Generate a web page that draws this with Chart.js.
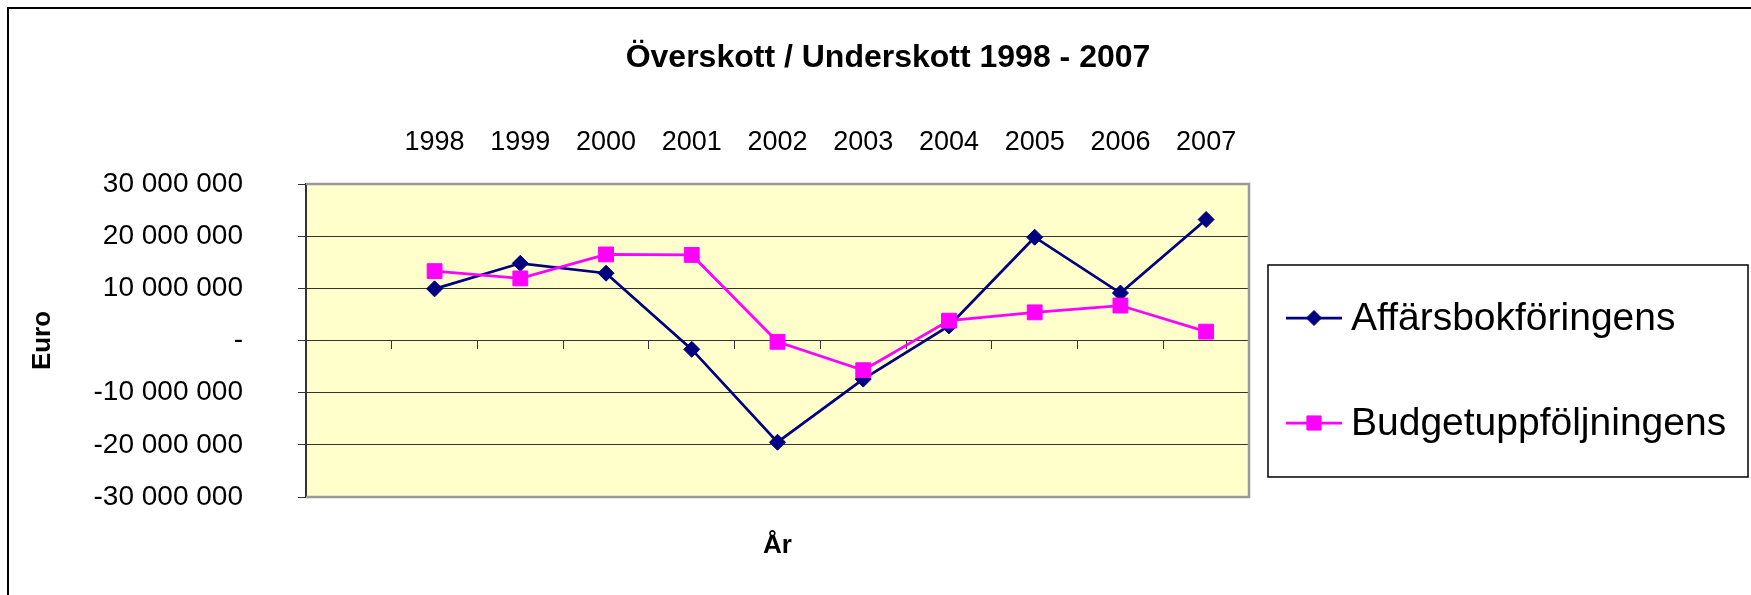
<!DOCTYPE html>
<html lang="sv">
<head>
    <meta charset="UTF-8">
    <title>Överskott / Underskott 1998 - 2007</title>
    <style>
        body {
            margin: 0;
            background-color: #fff;
        }
        canvas {
            display: block;
        }
    </style>
</head>
<body>

<canvas id="chart" width="1751" height="595"></canvas>

<script src="https://cdn.jsdelivr.net/npm/chart.js"></script>
<script>
    // first slot is empty in the original sheet
    const years = ['', '1998', '1999', '2000', '2001', '2002', '2003', '2004', '2005', '2006', '2007'];
    const affarsbokforingens = [null, 9900000, 14800000, 12900000, -1700000, -19500000, -7400000, 2800000, 19800000, 9100000, 23200000];
    const budgetuppfoljningens = [null, 13300000, 11900000, 16500000, 16400000, -250000, -5700000, 3800000, 5400000, 6700000, 1700000];
    const yTicks = [-30000000, -20000000, -10000000, 0, 10000000, 20000000, 30000000];

    const seriesNames = ['Affärsbokföringens', 'Budgetuppföljningens'];
    const titleText = 'Överskott / Underskott 1998 - 2007';

    const FONT = '"Liberation Sans", Arial, sans-serif';
    Chart.defaults.font.family = FONT;
    Chart.defaults.color = '#000';

    function euro(v) {
        if (v === 0) return '-';
        const s = Math.abs(v).toString().replace(/\B(?=(\d{3})+(?!\d))/g, ' ');
        return (v < 0 ? '-' : '') + s;
    }

    // plot background, frame, title and legend
    const decor = {
        id: 'decor',
        beforeDraw(chart) {
            const {ctx, chartArea: a} = chart;
            ctx.save();
            ctx.fillStyle = '#FFFFCC';
            ctx.fillRect(a.left, a.top, a.right - a.left, a.bottom - a.top);
            ctx.restore();
        },
        beforeDatasetsDraw(chart) {
            const {ctx, chartArea: a} = chart;
            ctx.save();
            ctx.strokeStyle = '#999';
            ctx.lineWidth = 2.5;
            ctx.beginPath();
            ctx.moveTo(a.left, a.top);
            ctx.lineTo(a.right, a.top);
            ctx.lineTo(a.right, a.bottom);
            ctx.lineTo(a.left, a.bottom);
            ctx.stroke();
            ctx.restore();
        },
        afterDraw(chart) {
            const ctx = chart.ctx;
            ctx.save();

            // outer frame
            ctx.strokeStyle = '#000';
            ctx.lineWidth = 2;
            ctx.strokeRect(8, 8, 1800, 700);

            // title
            ctx.fillStyle = '#000';
            ctx.font = 'bold 32px ' + FONT;
            ctx.textAlign = 'center';
            ctx.textBaseline = 'middle';
            ctx.fillText(titleText, 888, 58);

            // legend
            ctx.lineWidth = 1.5;
            ctx.strokeStyle = '#000';
            ctx.strokeRect(1268, 265, 480, 212);
            const rows = [318, 423];
            chart.data.datasets.forEach((ds, i) => {
                const y = rows[i];
                ctx.strokeStyle = ds.borderColor;
                ctx.lineWidth = 2.75;
                ctx.beginPath();
                ctx.moveTo(1286, y);
                ctx.lineTo(1342, y);
                ctx.stroke();
                ctx.fillStyle = ds.backgroundColor;
                ctx.lineWidth = 1;
                Chart.helpers.drawPoint(ctx, {
                    pointStyle: ds.pointStyle,
                    radius: ds.pointStyle === 'rect' ? 10 : 7.5,
                    rotation: 0,
                    borderWidth: 1
                }, 1314, y);
                ctx.fillStyle = '#000';
                ctx.font = '39px ' + FONT;
                ctx.textAlign = 'left';
                ctx.textBaseline = 'middle';
                ctx.fillText(ds.label, 1351, y + 1);
            });
            ctx.restore();
        }
    };

    new Chart(document.getElementById('chart'), {
        type: 'line',
        data: {
            labels: years,
            datasets: [
                {
                    label: seriesNames[0],
                    data: affarsbokforingens,
                    xAxisID: 'x',
                    yAxisID: 'y',
                    borderColor: '#000080',
                    backgroundColor: '#000080',
                    borderWidth: 2.75,
                    pointStyle: 'rectRot',
                    pointRadius: 8,
                    pointBorderWidth: 1,
                    tension: 0,
                    order: 1
                },
                {
                    label: seriesNames[1],
                    data: budgetuppfoljningens,
                    xAxisID: 'x',
                    yAxisID: 'y',
                    borderColor: '#FF00FF',
                    backgroundColor: '#FF00FF',
                    borderWidth: 2.75,
                    pointStyle: 'rect',
                    pointRadius: 10.5,
                    pointBorderWidth: 1,
                    tension: 0,
                    order: 0
                }
            ]
        },
        options: {
            responsive: false,
            animation: false,
            devicePixelRatio: 1,
            layout: {
                padding: {left: 0, top: 0, right: 502, bottom: 0}
            },
            plugins: {
                legend: {display: false},
                title: {display: false},
                tooltip: {enabled: false}
            },
            scales: {
                x: {
                    type: 'category',
                    position: 'top',
                    offset: true,
                    grid: {display: false, drawTicks: false},
                    border: {display: false},
                    ticks: {
                        font: {size: 27},
                        padding: 25,
                        autoSkip: false,
                        maxRotation: 0
                    },
                    afterFit(scale) { scale.height = 184; }
                },
                x0: {
                    type: 'category',
                    position: {y: 0},
                    offset: true,
                    grid: {
                        offset: true,
                        drawOnChartArea: false,
                        drawTicks: true,
                        tickLength: 8,
                        color: '#333'
                    },
                    border: {display: true, color: '#333', width: 1},
                    ticks: {display: false}
                },
                xb: {
                    type: 'category',
                    position: 'bottom',
                    offset: true,
                    grid: {display: false, drawTicks: false},
                    border: {display: false},
                    ticks: {display: false},
                    title: {
                        display: true,
                        text: 'År',
                        font: {size: 26, weight: 'bold'},
                        padding: {top: 0, bottom: 34}
                    },
                    afterFit(scale) { scale.height = 98; }
                },
                y: {
                    type: 'linear',
                    position: 'left',
                    min: -30000000,
                    max: 30000000,
                    afterBuildTicks(scale) {
                        scale.ticks = yTicks.map(v => ({value: v}));
                    },
                    grid: {
                        color: '#333',
                        lineWidth: 1,
                        tickLength: 8
                    },
                    border: {display: true, color: '#333', width: 2},
                    ticks: {
                        font: {size: 28},
                        padding: 55,
                        callback: v => euro(v)
                    },
                    title: {
                        display: true,
                        text: 'Euro',
                        font: {size: 26, weight: 'bold'},
                        padding: {top: 27, bottom: 0}
                    },
                    afterFit(scale) { scale.width = 306; }
                }
            }
        },
        plugins: [decor]
    });
</script>

</body>
</html>
